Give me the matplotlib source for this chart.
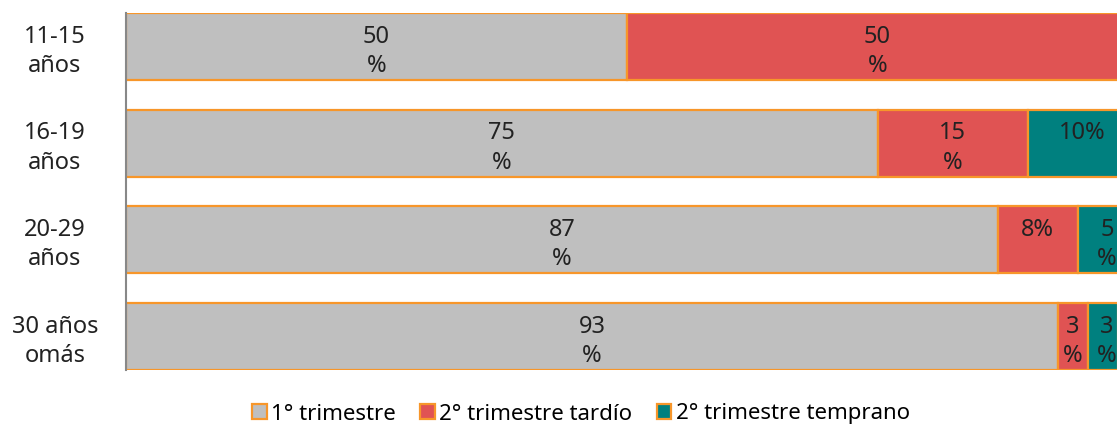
import matplotlib
matplotlib.use("Agg")
import matplotlib.pyplot as plt
from matplotlib.patches import Patch
from matplotlib.transforms import blended_transform_factory

plt.rcParams['font.family'] = ['Noto Sans', 'DejaVu Sans']

groups = ["11-15\naños", "16-19\naños", "20-29\naños", "30 años\nomás"]
series = ["1° trimestre", "2° trimestre tardío", "2° trimestre temprano"]
primer = [50, 75, 87, 93]
tardio = [50, 15, 8, 3]
temprano = [0, 10, 5, 3]
# cells whose label fits on one line in the original
one_line = [(1, 2), (2, 1)]

colors = ["#BFBFBF", "#E05353", "#00807F"]
edge = "#F7962A"

fig = plt.figure(figsize=(11.17, 4.28), dpi=100)
ax = fig.add_axes([126 / 1117, 1 - 370 / 428, 1 - 126 / 1117, 357 / 428])

ypos = list(range(len(groups)))
left = [0] * len(groups)
for s, vals in enumerate([primer, tardio, temprano]):
    ax.barh(ypos, vals, left=left, height=0.69, color=colors[s],
            edgecolor=edge, linewidth=1.6)
    for i, v in enumerate(vals):
        if v == 0:
            continue
        # one-line labels sit on the first line, like the wrapped ones
        txt = f"{v}%\n " if (s, i) in one_line else f"{v}\n%"
        xc = left[i] + v / 2
        if s == 2:
            xc = left[i] + v / 2 + 0.4
        ax.text(xc, i + 0.05, txt, ha="center", va="center", fontsize=17,
                color="#222222", linespacing=1.3)
    left = [a + b for a, b in zip(left, vals)]

ax.set_xlim(0, 98.9)
ax.set_ylim(len(groups) - 1 + 0.345, -0.345)
ax.set_xticks([])
ax.set_yticks([])
for sp in ["top", "right", "bottom"]:
    ax.spines[sp].set_visible(False)
ax.spines["left"].set_color("#888888")
ax.spines["left"].set_linewidth(1.5)

tr = blended_transform_factory(fig.transFigure, ax.transData)
for i, g in enumerate(groups):
    ax.text(55 / 1117, i + 0.05, g, transform=tr, ha="center", va="center",
            fontsize=17, color="#222222", linespacing=1.3,
            multialignment="center", clip_on=False)

handles = [Patch(facecolor=c, edgecolor=edge, linewidth=1.6) for c in colors]
fig.legend(handles, series, loc="center", bbox_to_anchor=(581 / 1117, 1 - 414 / 428),
           ncol=3, frameon=False, fontsize=16, handlelength=0.65, handleheight=0.65,
           handletextpad=0.2, columnspacing=1.1, borderpad=0)

fig.savefig("out.png", dpi=100)
